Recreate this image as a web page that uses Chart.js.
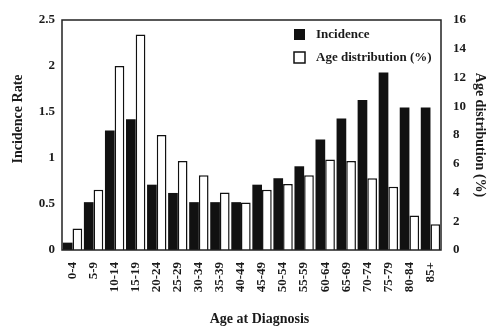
<!DOCTYPE html>
<html>
<head>
<meta charset="utf-8">
<script src="https://cdn.jsdelivr.net/npm/chart.js@4"></script>
<style>
  html, body { margin: 0; padding: 0; background: #fff; }
  #wrap { width: 500px; height: 331px; }
</style>
</head>
<body>
<div id="wrap"><canvas id="chart" width="500" height="331"></canvas></div>
<script>
const ageGroups = ['0-4', '5-9', '10-14', '15-19', '20-24', '25-29', '30-34', '35-39', '40-44',
    '45-49', '50-54', '55-59', '60-64', '65-69', '70-74', '75-79', '80-84', '85+'];
const incidence = [0.08, 0.52, 1.30, 1.42, 0.71, 0.62, 0.52, 0.52, 0.52,
    0.71, 0.78, 0.91, 1.20, 1.43, 1.63, 1.93, 1.55, 1.55];
const ageDistribution = [1.5, 4.2, 12.8, 15.0, 8.0, 6.2, 5.2, 4.0, 3.3,
    4.2, 4.6, 5.2, 6.3, 6.2, 5.0, 4.4, 2.4, 1.8];
const incidenceMax = 2.5;
const distributionMax = 16;

Chart.defaults.font.family = "'Liberation Serif', 'DejaVu Serif', serif";
Chart.defaults.font.weight = 'bold';
Chart.defaults.font.size = 13;
Chart.defaults.color = '#1a1a1a';

const ink = '#111111';

// box around the plot area
const frame = {
    id: 'frame',
    afterDatasetsDraw(chart) {
        const a = chart.chartArea;
        const ctx = chart.ctx;
        ctx.save();
        ctx.strokeStyle = '#222';
        ctx.lineWidth = 1.5;
        ctx.strokeRect(a.left, a.top, a.right - a.left, a.bottom - a.top);
        ctx.restore();
    }
};

// legend drawn inside the plot, top right
const innerLegend = {
    id: 'innerLegend',
    afterDraw(chart) {
        const ctx = chart.ctx;
        const x = 294, ys = [35, 58];
        ctx.save();
        ctx.font = "bold 13px 'Liberation Serif', serif";
        ctx.textBaseline = 'middle';
        chart.data.datasets.forEach((ds, i) => {
            const y = ys[i];
            ctx.fillStyle = ds.backgroundColor;
            ctx.fillRect(x, y - 6, 11, 11);
            if (ds.borderWidth) {
                ctx.strokeStyle = ink;
                ctx.lineWidth = 1.5;
                ctx.strokeRect(x, y - 6, 11, 11);
            }
            ctx.fillStyle = '#1a1a1a';
            ctx.fillText(ds.label, x + 22, y);
        });
        ctx.restore();
    }
};

// left and bottom titles are a little off-centre in the original
const offsetTitles = {
    id: 'offsetTitles',
    afterDraw(chart) {
        const ctx = chart.ctx;
        const a = chart.chartArea;
        ctx.save();
        ctx.font = "bold 14px 'Liberation Serif', serif";
        ctx.fillStyle = '#1a1a1a';
        ctx.textAlign = 'center';
        ctx.textBaseline = 'middle';
        ctx.fillText('Age at Diagnosis', (a.left + a.right) / 2 + 8, 319);
        ctx.translate(18, (a.top + a.bottom) / 2 - 16);
        ctx.rotate(-Math.PI / 2);
        ctx.fillText('Incidence Rate', 0, 0);
        ctx.restore();
    }
};

new Chart(document.getElementById('chart'), {
    type: 'bar',
    data: {
        labels: ageGroups,
        datasets: [
            {
                label: 'Incidence',
                data: incidence,
                yAxisID: 'y',
                backgroundColor: ink,
                borderWidth: 0,
                categoryPercentage: 0.92,
                barPercentage: 1.0
            },
            {
                label: 'Age distribution (%)',
                data: ageDistribution,
                yAxisID: 'y2',
                backgroundColor: '#ffffff',
                borderColor: ink,
                borderWidth: 1.5,
                categoryPercentage: 0.92,
                barPercentage: 1.0
            }
        ]
    },
    options: {
        responsive: false,
        animation: false,
        layout: { padding: { top: 20, left: 0, right: 0, bottom: 0 } },
        plugins: {
            legend: { display: false },
            tooltip: { enabled: false }
        },
        scales: {
            x: {
                grid: { display: false, drawTicks: false },
                border: { display: false },
                ticks: { minRotation: 90, maxRotation: 90, padding: 12, autoSkip: false },
                afterFit(scale) { scale.height = 81; }
            },
            y: {
                position: 'left',
                min: 0,
                max: incidenceMax,
                grid: { display: false, drawTicks: false },
                border: { display: false },
                ticks: { stepSize: 0.5, padding: 7, callback: v => String(Number(v.toFixed(1))) },
                afterFit(scale) { scale.width = 62; }
            },
            y2: {
                position: 'right',
                min: 0,
                max: distributionMax,
                grid: { display: false, drawTicks: false },
                border: { display: false },
                ticks: { stepSize: 2, padding: 12 },
                title: { display: true, text: 'Age distribution (%)', font: { size: 14 }, padding: { top: 12, bottom: 0 } },
                afterFit(scale) { scale.width = 59; }
            }
        }
    },
    plugins: [frame, innerLegend, offsetTitles]
});
</script>
</body>
</html>
